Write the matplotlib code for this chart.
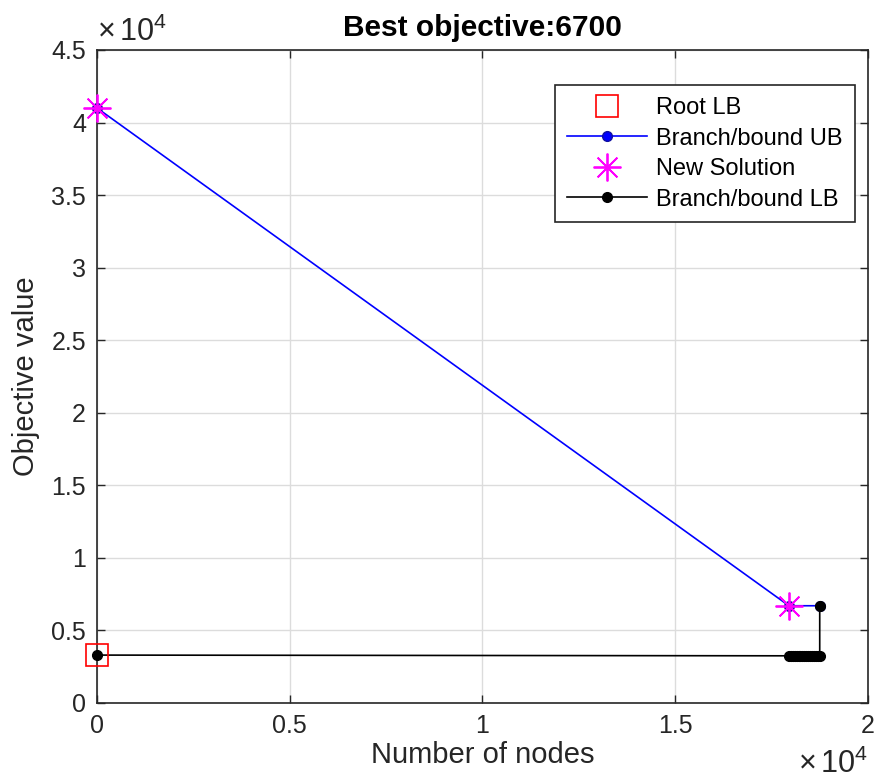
import numpy as np
import matplotlib.pyplot as plt
from matplotlib.ticker import FuncFormatter, MultipleLocator

plt.rcParams['font.family'] = ['Liberation Sans', 'DejaVu Sans']
plt.rcParams['mathtext.fontset'] = 'custom'
plt.rcParams['mathtext.rm'] = 'Liberation Sans'

# upper bound history (nodes, objective)
ub_nodes = [0, 17950, 18750]
ub_vals = [41000, 6700, 6700]

# incumbent solutions found
sol_nodes = [0, 17950]
sol_vals = [41000, 6700]

# root relaxation bound
root_node = 0
root_lb = 3300

# lower bound history
lb_nodes = [0, 17950, 18000, 18050, 18100, 18150, 18200, 18250, 18300,
            18350, 18400, 18450, 18500, 18550, 18600, 18650, 18700, 18750,
            18750]
lb_vals = [3300, 3250, 3250, 3250, 3250, 3250, 3250, 3250, 3250,
           3250, 3250, 3250, 3250, 3250, 3250, 3250, 3250, 3250,
           6700]

fig = plt.figure(figsize=(8.78, 7.83), dpi=100)
ax = fig.add_axes([0.1105, 0.1022, 0.878, 0.834])

ax.plot(root_node, root_lb, 's', ms=16, mfc='none', mec='red', mew=1.2,
        label='Root LB', zorder=5, clip_on=False)
ax.plot(ub_nodes, ub_vals, '-o', color='blue', lw=1.2, ms=7,
        mec='#1010a0', label='Branch/bound UB', zorder=3, clip_on=False)
ax.plot(sol_nodes, sol_vals, color='magenta', ms=20, mew=1.3,
        linestyle='none', marker=(8, 2, 0), label='New Solution', zorder=4,
        clip_on=False)
ax.plot(lb_nodes, lb_vals, '-o', color='black', lw=1.2, ms=7,
        label='Branch/bound LB', zorder=3, clip_on=False)

ax.set_xlim(0, 20000)
ax.set_ylim(0, 45000)
ax.xaxis.set_major_locator(MultipleLocator(5000))
ax.yaxis.set_major_locator(MultipleLocator(5000))
fmt = FuncFormatter(lambda v, p: '%g' % (v / 1e4))
ax.xaxis.set_major_formatter(fmt)
ax.yaxis.set_major_formatter(fmt)
ax.tick_params(direction='in', top=True, right=True, labelsize=18,
               length=6, width=1, colors='#262626', pad=8)
ax.grid(True, color='#dcdcdc', lw=1)
ax.set_axisbelow(True)
for s in ax.spines.values():
    s.set_color('#262626')
    s.set_linewidth(1.2)

ax.text(0.0, 1.003, r'$\times\,\mathregular{10^4}$', transform=ax.transAxes,
        fontsize=22, ha='left', va='bottom', color='#262626')
ax.text(1.0, -0.118, r'$\times\,\mathregular{10^4}$', transform=ax.transAxes,
        fontsize=22, ha='right', va='bottom', color='#262626')

ax.set_xlabel('Number of nodes', fontsize=21, color='#262626', labelpad=2)
ax.set_ylabel('Objective value', fontsize=21, color='#262626', labelpad=8)
ax.set_title('Best objective:6700', fontsize=21.5, fontweight='bold', pad=10)

leg = ax.legend(loc='upper right', bbox_to_anchor=(0.983, 0.946), fontsize=17,
                fancybox=False, edgecolor='#262626', framealpha=1,
                handlelength=3.4, borderpad=0.5, labelspacing=0.36,
                handletextpad=0.4, borderaxespad=0)
leg.get_frame().set_linewidth(1.2)

fig.savefig('out.png', dpi=100)
